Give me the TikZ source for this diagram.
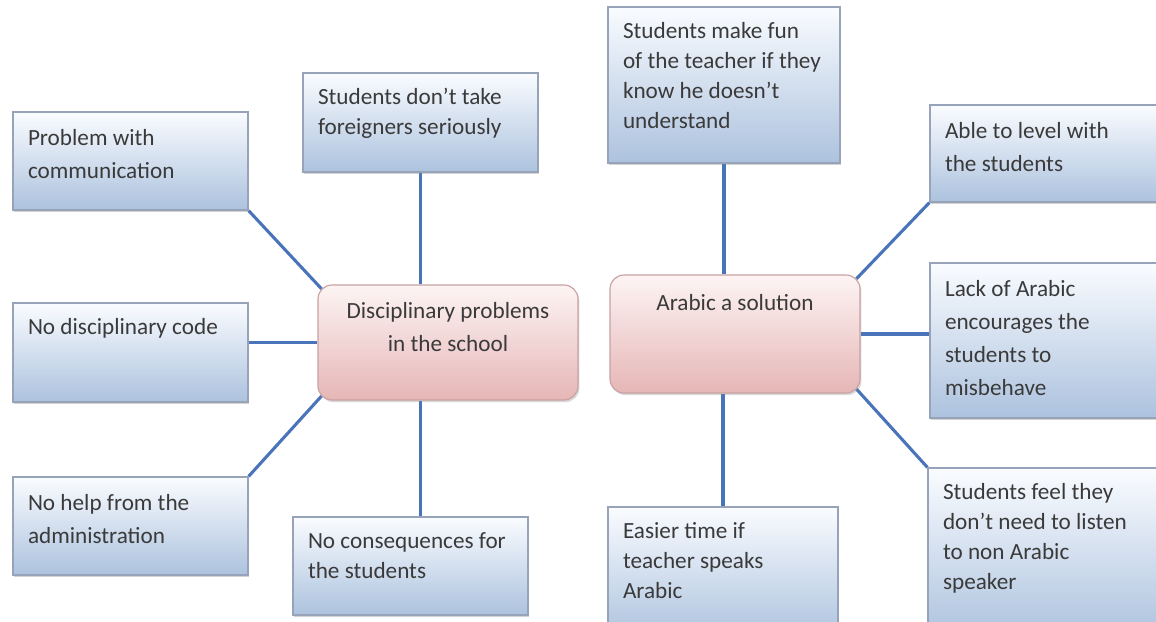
\documentclass[tikz,border=0pt]{standalone}
\usepackage{fontspec}
\setmainfont{Carlito}
\usetikzlibrary{shadows,backgrounds}

\definecolor{boxtop}{RGB}{250,252,255}
\definecolor{boxbottom}{RGB}{172,194,222}
\definecolor{boxline}{RGB}{150,163,184}
\definecolor{pinktop}{RGB}{253,244,244}
\definecolor{pinkbottom}{RGB}{230,182,182}
\definecolor{pinkline}{RGB}{200,162,162}
\definecolor{linkblue}{RGB}{74,116,186}
\definecolor{textgray}{RGB}{58,58,58}

\newlength{\unitpx}
\setlength{\unitpx}{0.025cm}
\newcommand{\boxtext}[3]{\parbox[c][#2\unitpx][t]{#1\unitpx}{\raggedright\strut #3}}
\newcommand{\midtext}[3]{\parbox[c][#2\unitpx][t]{#1\unitpx}{\centering\strut #3}}

\begin{document}
\begin{tikzpicture}[x=0.025cm, y=-0.025cm,
    every node/.style={font=\fontsize{16.5}{21.5}\selectfont, text=textgray},
    wide/.style={font=\fontsize{16.5}{23.5}\selectfont},
    infobox/.style={draw=boxline, line width=0.8pt, top color=boxtop, bottom color=boxbottom,
        inner xsep=15\unitpx, inner ysep=10\unitpx,
        drop shadow={shadow xshift=1pt, shadow yshift=-1.5pt, opacity=0.35}},
    topicbox/.style={draw=pinkline, line width=0.8pt, rounded corners=14\unitpx, top color=pinktop, bottom color=pinkbottom,
        inner xsep=15\unitpx, inner ysep=10\unitpx,
        drop shadow={shadow xshift=1pt, shadow yshift=-1.5pt, opacity=0.3}},
    link/.style={draw=linkblue, line width=2.2pt},
    into/.style={shorten >=-6\unitpx}]
        \useasboundingbox (0,0) rectangle (1156,621);

        % Disciplinary problems
        \node[topicbox, wide] (disc) at (448,342.5) {\midtext{230}{95}{Disciplinary problems\\in the school}};
        \node[infobox, wide] (comm) at (130.5,161) {\boxtext{205}{78}{Problem with\\communication}};
        \node[infobox] (code) at (130.5,352.5) {\boxtext{205}{79}{No disciplinary code}};
        \node[infobox, wide] (help) at (130.5,526) {\boxtext{205}{78}{No help from the\\administration}};
        \node[infobox] (foreign) at (420.5,122.5) {\boxtext{205}{79}{Students don’t take\\foreigners seriously}};
        \node[infobox] (conseq) at (410.5,566) {\boxtext{205}{78}{No consequences for\\the students}};

        % Arabic a solution
        \node[topicbox, inner ysep=14\unitpx] (arab) at (735,334) {\midtext{220}{90}{Arabic a solution}};
        \node[infobox] (fun) at (724,85) {\boxtext{202}{136}{Students make fun\\of the teacher if they\\know he doesn’t\\understand}};
        \node[infobox, wide] (level) at (1060,153.5) {\boxtext{230}{77}{Able to level with\\the students}};
        \node[infobox, wide] (lack) at (1060,340.5) {\boxtext{230}{135}{Lack of Arabic\\encourages the\\students to\\misbehave}};
        \node[infobox] (feel) at (1059,554) {\boxtext{232}{152}{Students feel they\\don’t need to listen\\to non Arabic\\speaker}};
        \node[infobox] (easier) at (723,573.5) {\boxtext{200}{113}{Easier time if\\teacher speaks\\Arabic}};

        % Connectors
        \begin{pgfonlayer}{background}
        \draw[link, into] (comm.south east) -- (disc.north west);
        \draw[link] (code.east |- disc.west) -- (disc.west);
        \draw[link, into] (help.north east) -- (disc.south west);
        \draw[link] (foreign.south) -- (foreign.south |- disc.north);
        \draw[link] (conseq.north -| foreign.south) -- (disc.south -| foreign.south);
        \draw[link] (fun.south) -- (fun.south |- arab.north);
        \draw[link, into] (level.south west) -- (arab.north east);
        \draw[link] (arab.east) -- (arab.east -| lack.west);
        \draw[link, into] (feel.north west) -- (arab.south east);
        \draw[link] (easier.north) -- (easier.north |- arab.south);
        \end{pgfonlayer}
\end{tikzpicture}
\end{document}
